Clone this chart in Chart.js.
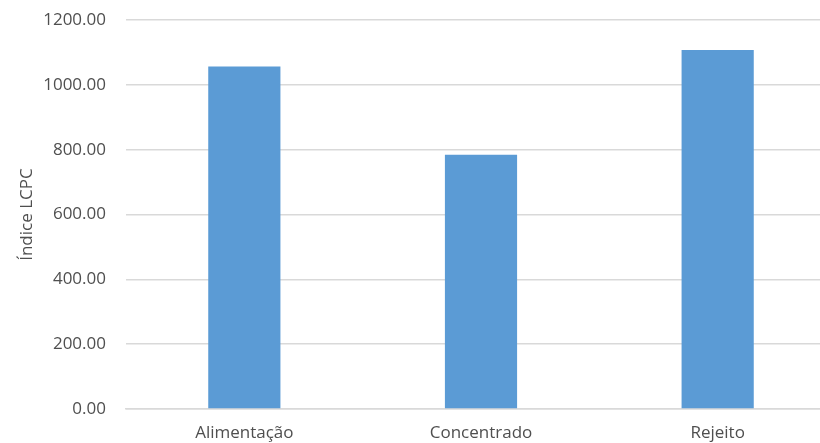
<!DOCTYPE html>
<html>
<head>
<meta charset="utf-8">
<script src="https://cdn.jsdelivr.net/npm/chart.js"></script>
<style>
  html, body { margin: 0; padding: 0; background: #fff; overflow: hidden; }
  #wrap { width: 840px; height: 443px; overflow: hidden; }
  #myChart { display: block; margin-top: -10px; }
</style>
</head>
<body>
<div id="wrap"><canvas id="myChart" width="836" height="453"></canvas></div>
<script>
const categories = ['Alimentação', 'Concentrado', 'Rejeito'];
const lcpcValues = [1057, 785, 1108];
const yTicks = [0, 200, 400, 600, 800, 1000, 1200];

document.addEventListener('DOMContentLoaded', () => {
  const ctx = document.getElementById('myChart').getContext('2d');
  const textColor = '#4f4f4f';
  const gridColor = '#d9d9d9';

  new Chart(ctx, {
    type: 'bar',
    data: {
      labels: categories,
      datasets: [{
        label: 'Índice LCPC',
        data: lcpcValues,
        backgroundColor: '#5b9bd5',
        borderWidth: 0,
        categoryPercentage: 1,
        barPercentage: 0.305
      }]
    },
    options: {
      responsive: false,
      animation: false,
      plugins: {
        legend: { display: false },
        tooltip: { enabled: false }
      },
      scales: {
        x: {
          grid: { display: false },
          border: { color: gridColor, width: 1.5 },
          ticks: {
            color: textColor,
            font: { family: 'Open Sans', size: 17 },
            padding: 6
          },
          afterFit: (scale) => { scale.height = 34; }
        },
        y: {
          min: 0,
          max: 1200,
          afterBuildTicks: (scale) => { scale.ticks = yTicks.map(v => ({ value: v })); },
          grid: { color: gridColor, lineWidth: 1.5, drawTicks: false },
          border: { display: false },
          ticks: {
            color: textColor,
            font: { family: 'Open Sans', size: 17 },
            padding: 20,
            callback: (v) => Number(v).toFixed(2)
          },
          title: {
            display: true,
            text: 'Índice LCPC',
            color: textColor,
            font: { family: 'Open Sans', size: 17 },
            padding: { top: 17, bottom: 4 }
          },
          afterFit: (scale) => { scale.width = 126; }
        }
      }
    }
  });
});
</script>
</body>
</html>
